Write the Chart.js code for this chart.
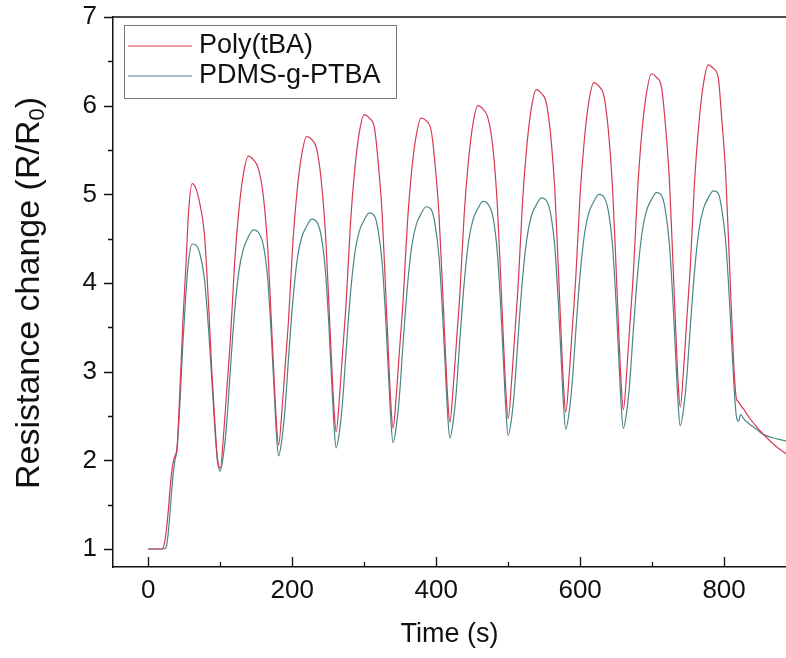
<!DOCTYPE html>
<html>
<head>
<meta charset="utf-8">
<script src="https://cdn.jsdelivr.net/npm/chart.js@4.4.1/dist/chart.umd.min.js"></script>
<style>
  html, body { margin: 0; padding: 0; background: #fff; }
  #wrap { width: 786px; height: 658px; }
</style>
</head>
<body>
<div id="wrap"><canvas id="resist"></canvas></div>
<script>
// values
var timeS = [
  0, 10, 19, 22, 25, 28, 31, 34, 37, 40, 44, 48, 52, 56, 61, 66, 72, 78, 84, 88, 92, 96,
  100, 105, 109, 114, 120, 126, 132, 139, 146, 153, 160, 166, 171, 175, 178,
  181, 186, 190, 195, 201, 207, 213, 220, 227, 234, 240, 246, 251, 255, 258,
  261, 266, 270, 275, 281, 287, 293, 300, 307, 314, 319, 325, 330, 334, 337,
  340, 345, 349, 354, 360, 366, 372, 379, 386, 393, 398, 404, 409, 413, 416,
  419, 424, 428, 433, 439, 445, 451, 458, 465, 472, 479, 485, 490, 494, 497,
  500, 505, 509, 514, 520, 526, 532, 539, 546, 553, 559, 565, 570, 574, 577,
  580, 585, 589, 594, 600, 606, 612, 619, 626, 633, 639, 645, 650, 654, 657,
  660, 665, 669, 674, 680, 686, 692, 699, 706, 713, 718, 724, 729, 733, 736,
  739, 744, 748, 753, 759, 765, 771, 778, 785, 792, 796, 802, 807, 811, 814,
  817, 820, 823, 827, 835, 845, 855, 865, 875, 885, 895
];
var polyTBA = [
  1.0, 1.0, 1.0, 1.05, 1.2, 1.45, 1.75, 1.95, 2.05, 2.15, 2.8, 3.55, 4.15, 4.8, 5.12, 5.07, 4.88, 4.55, 3.72, 3.05, 2.5, 2.03,
  1.91, 2.33, 2.79, 3.35, 4.23, 4.83, 5.22, 5.43, 5.39, 5.29, 4.97, 4.39, 3.57, 2.89, 2.43,
  2.17, 2.59, 3.04, 3.60, 4.47, 5.06, 5.44, 5.65, 5.62, 5.51, 5.18, 4.58, 3.75, 3.05, 2.59,
  2.32, 2.75, 3.22, 3.79, 4.68, 5.29, 5.69, 5.90, 5.86, 5.76, 5.40, 4.77, 3.88, 3.14, 2.64,
  2.36, 2.78, 3.24, 3.80, 4.67, 5.27, 5.65, 5.86, 5.83, 5.72, 5.38, 4.76, 3.91, 3.19, 2.70,
  2.43, 2.86, 3.32, 3.89, 4.79, 5.39, 5.79, 6.00, 5.96, 5.86, 5.51, 4.87, 3.99, 3.25, 2.75,
  2.47, 2.92, 3.40, 3.99, 4.92, 5.55, 5.96, 6.18, 6.14, 6.03, 5.67, 5.02, 4.11, 3.34, 2.83,
  2.54, 2.99, 3.47, 4.07, 5.00, 5.63, 6.04, 6.26, 6.22, 6.11, 5.74, 5.08, 4.16, 3.38, 2.87,
  2.57, 3.03, 3.52, 4.12, 5.07, 5.72, 6.13, 6.36, 6.32, 6.21, 5.83, 5.16, 4.22, 3.43, 2.90,
  2.60, 3.06, 3.57, 4.18, 5.15, 5.80, 6.23, 6.46, 6.42, 6.31, 5.93, 5.26, 4.32, 3.53, 3.00,
  2.70, 2.66, 2.62, 2.58, 2.48, 2.38, 2.29, 2.21, 2.14, 2.08, 2.02
];
var pdmsPTBA = [
  1.0, 1.0, 1.0, 1.0, 1.02, 1.2, 1.5, 1.8, 2.0, 2.12, 2.65, 3.3, 3.85, 4.25, 4.44, 4.43, 4.32, 4.05, 3.45, 2.95, 2.42, 2.0,
  1.88, 2.10, 2.42, 3.02, 3.68, 4.14, 4.38, 4.52, 4.60, 4.57, 4.42, 4.04, 3.40, 2.76, 2.31,
  2.05, 2.26, 2.58, 3.17, 3.81, 4.27, 4.51, 4.64, 4.72, 4.69, 4.54, 4.15, 3.51, 2.86, 2.40,
  2.14, 2.35, 2.67, 3.25, 3.89, 4.34, 4.58, 4.71, 4.79, 4.76, 4.61, 4.22, 3.57, 2.93, 2.46,
  2.20, 2.41, 2.73, 3.32, 3.96, 4.41, 4.65, 4.78, 4.86, 4.83, 4.68, 4.29, 3.63, 2.98, 2.51,
  2.25, 2.46, 2.78, 3.37, 4.01, 4.47, 4.71, 4.84, 4.92, 4.89, 4.74, 4.34, 3.68, 3.02, 2.54,
  2.28, 2.49, 2.82, 3.41, 4.05, 4.50, 4.75, 4.88, 4.96, 4.93, 4.78, 4.39, 3.73, 3.08, 2.61,
  2.35, 2.56, 2.88, 3.46, 4.10, 4.55, 4.79, 4.92, 5.00, 4.97, 4.82, 4.42, 3.76, 3.10, 2.62,
  2.36, 2.57, 2.89, 3.48, 4.12, 4.57, 4.81, 4.94, 5.02, 4.99, 4.84, 4.44, 3.78, 3.13, 2.65,
  2.39, 2.60, 2.92, 3.50, 4.14, 4.59, 4.83, 4.96, 5.04, 5.01, 4.87, 4.49, 3.87, 3.25, 2.80,
  2.50, 2.44, 2.52, 2.47, 2.41, 2.35, 2.29, 2.26, 2.24, 2.22, 2.21
];
var xMajor = [0, 200, 400, 600, 800];
var xMinor = [100, 300, 500, 700];
var yMajor = [1, 2, 3, 4, 5, 6, 7];
var yMinor = [1.5, 2.5, 3.5, 4.5, 5.5, 6.5];
var seriesNames = ['Poly(tBA)', 'PDMS-g-PTBA'];
var seriesColors = ['#d63a52', '#4a8588'];

var FONT = '"Liberation Sans", Arial, sans-serif';

function toPoints(vals) {
  return timeS.map(function (t, i) { return {x: t, y: vals[i]}; });
}

// tick marks, top frame line, y title with subscript, boxed legend
const decorations = {
  id: 'decorations',
  afterDraw(chart) {
    const ctx = chart.ctx;
    const a = chart.chartArea;
    const x = chart.scales.x, y = chart.scales.y;
    ctx.save();
    ctx.strokeStyle = '#111';
    ctx.lineWidth = 1.5;
    ctx.beginPath();
    ctx.moveTo(a.left - 0.75, a.top);
    ctx.lineTo(a.right, a.top);
    ctx.stroke();

    ctx.lineWidth = 1.3;
    ctx.beginPath();
    xMajor.forEach(function (v) {
      const px = Math.round(x.getPixelForValue(v)) + 0.5;
      ctx.moveTo(px, a.bottom); ctx.lineTo(px, a.bottom - 10);
    });
    xMinor.forEach(function (v) {
      const px = Math.round(x.getPixelForValue(v)) + 0.5;
      ctx.moveTo(px, a.bottom); ctx.lineTo(px, a.bottom - 5);
    });
    yMajor.forEach(function (v) {
      const py = Math.round(y.getPixelForValue(v)) + 0.5;
      ctx.moveTo(a.left, py); ctx.lineTo(a.left - 9, py);
    });
    yMinor.forEach(function (v) {
      const py = Math.round(y.getPixelForValue(v)) + 0.5;
      ctx.moveTo(a.left, py); ctx.lineTo(a.left - 5, py);
    });
    ctx.stroke();

    // y axis title
    ctx.fillStyle = '#111';
    ctx.translate(30, 293);
    ctx.rotate(-Math.PI / 2);
    ctx.textBaseline = 'middle';
    ctx.textAlign = 'left';
    const big = '34px ' + FONT, small = '22px ' + FONT;
    const p1 = 'Resistance change (R/R', p2 = '0', p3 = ')';
    ctx.font = big;
    const w1 = ctx.measureText(p1).width, w3 = ctx.measureText(p3).width;
    ctx.font = small;
    const w2 = ctx.measureText(p2).width;
    let sx = -(w1 + w2 + w3) / 2;
    ctx.font = big;
    ctx.fillText(p1, sx, 0);
    ctx.font = small;
    ctx.fillText(p2, sx + w1, 8);
    ctx.font = big;
    ctx.fillText(p3, sx + w1 + w2, 0);
    ctx.setTransform(1, 0, 0, 1, 0, 0);

    // legend
    ctx.strokeStyle = '#777';
    ctx.lineWidth = 1;
    ctx.strokeRect(124.5, 25.5, 272, 73);
    ctx.font = '27px ' + FONT;
    ctx.textBaseline = 'middle';
    ctx.fillStyle = '#111';
    [46, 76].forEach(function (ly, i) {
      ctx.strokeStyle = seriesColors[i];
      ctx.lineWidth = 1.2;
      ctx.beginPath();
      ctx.moveTo(128, ly); ctx.lineTo(192, ly);
      ctx.stroke();
      ctx.fillText(seriesNames[i], 199, ly);
    });
    ctx.restore();
  }
};

const chart = new Chart(document.getElementById('resist'), {
  type: 'line',
  data: {
    datasets: [
      {label: seriesNames[0], data: toPoints(polyTBA), borderColor: seriesColors[0],
       borderWidth: 1.2, pointRadius: 0, cubicInterpolationMode: 'monotone'},
      {label: seriesNames[1], data: toPoints(pdmsPTBA), borderColor: seriesColors[1],
       borderWidth: 1.2, pointRadius: 0, cubicInterpolationMode: 'monotone'}
    ]
  },
  options: {
    responsive: true,
    maintainAspectRatio: false,
    animation: false,
    layout: {padding: {top: 17, right: 0, bottom: 0, left: 0}},
    plugins: {legend: {display: false}, tooltip: {enabled: false}},
    scales: {
      x: {
        type: 'linear',
        min: -49,
        max: 886,
        afterBuildTicks: function (s) { s.ticks = xMajor.map(function (v) { return {value: v}; }); },
        afterFit: function (s) { s.height = 91; s.paddingLeft = 0; s.paddingRight = 0; },
        grid: {display: false, drawTicks: false},
        border: {display: true, color: '#111', width: 1.5},
        ticks: {font: {family: FONT, size: 26}, color: '#111', padding: 8, maxRotation: 0},
        title: {display: true, text: 'Time (s)', font: {family: FONT, size: 27}, color: '#111',
                padding: {top: 0, bottom: 7}}
      },
      y: {
        min: 0.797,
        max: 7,
        afterBuildTicks: function (s) { s.ticks = yMajor.map(function (v) { return {value: v}; }); },
        afterFit: function (s) { s.width = 113; s.paddingTop = 0; s.paddingBottom = 0; },
        grid: {display: false, drawTicks: false},
        border: {display: true, color: '#111', width: 1.5},
        ticks: {font: {family: FONT, size: 26}, color: '#111', padding: 16}
      }
    }
  },
  plugins: [decorations]
});
</script>
</body>
</html>
